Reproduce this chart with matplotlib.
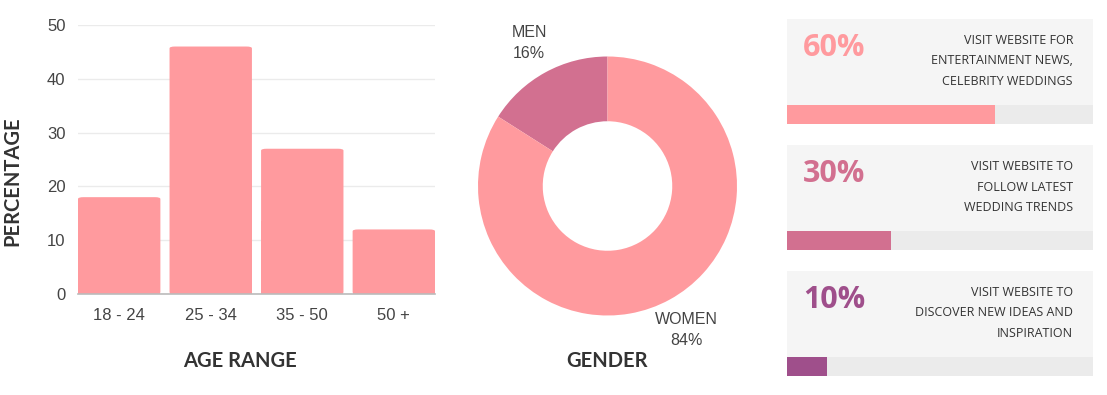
import matplotlib
matplotlib.use("Agg")
import matplotlib.pyplot as plt
from matplotlib.patches import FancyBboxPatch, Rectangle

# ---- data ----
age_ranges = ["18 - 24", "25 - 34", "35 - 50", "50 +"]
age_pct = [18, 46, 27, 12]
y_ticks = [0, 10, 20, 30, 40, 50]

gender_labels = ["MEN", "WOMEN"]
gender_pct = [16, 84]

card_pct_labels = ["60%", "30%", "10%"]
card_progress = [68, 34, 13]  # drawn fill length of each progress bar
card_texts = [
    "VISIT WEBSITE FOR\nENTERTAINMENT NEWS,\nCELEBRITY WEDDINGS",
    "VISIT WEBSITE TO\nFOLLOW LATEST\nWEDDING TRENDS",
    "VISIT WEBSITE TO\nDISCOVER NEW IDEAS AND\nINSPIRATION",
]

# ---- styles ----
W, H = 1107, 395
PINK = "#ff9a9e"
ROSE = "#d27090"
PLUM = "#9f4f8b"
card_colors = [PINK, ROSE, PLUM]
TXT = "#444444"

fig = plt.figure(figsize=(W / 100, H / 100), dpi=100)
fig.patch.set_facecolor("white")


def px_axes(x0, y0, x1, y1):
    return fig.add_axes([x0 / W, 1 - y1 / H, (x1 - x0) / W, (y1 - y0) / H])


def ftext(x, y, s, **kw):
    fig.text(x / W, 1 - y / H, s, **kw)


# ---- bar chart ----
ax = px_axes(78, 25, 435, 294)
xs = range(len(age_ranges))
bw = 0.9
bars = ax.bar(xs, age_pct, width=bw, color=PINK, zorder=2)
# rounded tops
for b in bars:
    b.set_visible(False)
    x0, h = b.get_x(), b.get_height()
    ax.add_patch(FancyBboxPatch((x0, 0), bw, h,
                                boxstyle="round,pad=0,rounding_size=0.06",
                                mutation_aspect=0.5 / 0.9 * 10 / 1.0,
                                facecolor=PINK, edgecolor="none", zorder=2))
    ax.add_patch(Rectangle((x0, 0), bw, h * 0.5, facecolor=PINK,
                           edgecolor="none", zorder=2))
ax.set_xlim(-bw / 2, len(age_ranges) - 1 + bw / 2)
ax.set_ylim(0, 50)
ax.set_yticks(y_ticks)
ax.set_xticks(list(xs))
ax.set_xticklabels(age_ranges)
for side in ["top", "right", "left"]:
    ax.spines[side].set_visible(False)
ax.spines["bottom"].set_color("#bbbbbb")
ax.spines["bottom"].set_linewidth(1.2)
ax.grid(axis="y", color="#ebebeb", linewidth=1, zorder=0)
ax.set_axisbelow(True)
ax.tick_params(axis="both", length=0, labelsize=12, colors=TXT)
ax.tick_params(axis="y", pad=9)
ax.tick_params(axis="x", pad=10)
for lab in ax.get_xticklabels() + ax.get_yticklabels():
    lab.set_family("Liberation Sans")
ax.set_facecolor("none")

ftext(240, 361, "AGE RANGE", ha="center", va="center", fontsize=14.5,
      fontweight="bold", family="Lato", color="#333333")
ftext(12, 181, "PERCENTAGE", ha="center", va="center", fontsize=14.5,
      fontweight="bold", family="Lato", color="#333333", rotation=90)

# ---- donut ----
R = 129.5
cx, cy = 607.5, 186
axp = px_axes(cx - R, cy - R, cx + R, cy + R)
axp.pie(gender_pct, colors=[ROSE, PINK], startangle=90, counterclock=True,
        radius=1, wedgeprops=dict(width=0.5, edgecolor="none"))
axp.set_xlim(-1, 1)
axp.set_ylim(-1, 1)
axp.set_aspect("equal")
axp.axis("off")

ftext(529, 43, f"{gender_labels[0]}\n{gender_pct[0]}%", ha="center", va="center",
      fontsize=11.5, family="Liberation Sans", color=TXT, linespacing=1.55)
ftext(686, 330, f"{gender_labels[1]}\n{gender_pct[1]}%", ha="center", va="center",
      fontsize=11.5, family="Liberation Sans", color=TXT, linespacing=1.55)
ftext(607, 361, "GENDER", ha="center", va="center", fontsize=14.5,
      fontweight="bold", family="Lato", color="#333333")

# ---- cards ----
card_tops = [19, 145, 271]
card_h = 105
bar_h = 19
x0c, x1c = 787, 1093
for i, top in enumerate(card_tops):
    axc = px_axes(x0c, top, x1c, top + card_h)
    axc.set_xlim(0, 100)
    axc.set_ylim(card_h, 0)
    axc.axis("off")
    axc.add_patch(Rectangle((0, 0), 100, card_h - bar_h, facecolor="#f5f5f5",
                            edgecolor="none"))
    axc.barh([card_h - bar_h / 2], [100], height=bar_h, color="#ebebeb", left=0)
    axc.barh([card_h - bar_h / 2], [card_progress[i]], height=bar_h,
             color=card_colors[i], left=0)
    ftext(834, top + 29, card_pct_labels[i], ha="center", va="center",
          fontsize=22, fontweight="bold", family="Open Sans", color=card_colors[i])
    ftext(1073, top + 42, card_texts[i], ha="right", va="center",
          fontsize=9.0, family="Open Sans", color="#333333", linespacing=1.77,
          multialignment="right")

fig.savefig("out.png", dpi=100, facecolor="white")
